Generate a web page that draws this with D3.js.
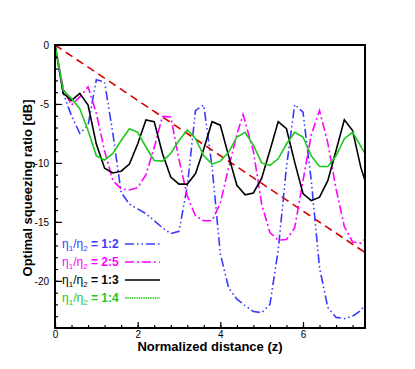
<!DOCTYPE html>
<html>
<head>
<meta charset="utf-8">
<script src="https://cdn.jsdelivr.net/npm/d3@7"></script>
<style>
  body { margin: 0; background: #fff; }
  text { font-family: "Liberation Sans", Arial, sans-serif; }
</style>
</head>
<body>
<div id="chart"></div>
<script>
// sampled positions (normalized distance z)
const zGrid = [0, 0.2, 0.4, 0.6, 0.8, 1.0, 1.2, 1.4, 1.6, 1.8, 2.0, 2.2, 2.4, 2.6, 2.8, 3.0, 3.2, 3.4, 3.6, 3.8,
               4.0, 4.2, 4.4, 4.6, 4.8, 5.0, 5.2, 5.4, 5.6, 5.8, 6.0, 6.2, 6.4, 6.6, 6.8, 7.0, 7.2, 7.4, 7.5];
const zPink = [0, 0.2, 0.4, 0.6, 0.8, 1.0, 1.2, 1.4, 1.6, 1.8, 2.0, 2.2, 2.4, 2.6, 2.8, 3.0, 3.2, 3.4, 3.6, 3.8,
               4.0, 4.2, 4.4, 4.55, 4.8, 5.0, 5.2, 5.4, 5.6, 5.8, 6.0, 6.2, 6.4, 6.6, 6.8, 7.0, 7.2, 7.4, 7.5];

// optimal squeezing ratio [dB]
const ratio12 = [0, -4.1, -6.0, -7.5, -6.8, -2.95, -3.15, -7.5, -12.5, -13.5, -13.9, -14.3, -14.9, -15.5, -16.0, -15.8,
                 -12.0, -5.55, -5.1, -10.35, -17.7, -20.6, -21.55, -22.1, -22.6, -22.7, -22.0, -17.4, -10.35, -5.05,
                 -5.7, -11.5, -18.9, -22.25, -23.1, -23.2, -23.0, -22.5, -22.0];
const ratio25 = [0, -3.7, -5.1, -4.4, -3.55, -5.8, -9.0, -11.5, -12.2, -12.3, -12.1, -11.0, -8.7, -6.05, -6.1, -9.7,
                 -12.8, -14.5, -14.9, -14.9, -13.4, -10.4, -7.6, -5.9, -9.0, -13.5, -15.9, -16.55, -16.5, -15.5,
                 -11.5, -7.6, -5.55, -8.3, -12.2, -15.4, -16.7, -16.8, -16.45];
const ratio13 = [0, -4.1, -4.7, -4.1, -5.1, -8.4, -10.45, -10.85, -10.7, -10.1, -8.4, -6.35, -6.5, -9.2, -11.2, -11.8,
                 -11.8, -10.9, -8.8, -6.5, -6.8, -9.4, -11.9, -12.7, -12.55, -11.3, -8.95, -6.5, -7.1, -9.95,
                 -12.6, -13.2, -12.9, -11.5, -8.95, -6.35, -7.25, -10.4, -11.5];
const ratio14 = [0, -3.85, -4.55, -5.4, -7.25, -9.4, -9.75, -9.2, -8.1, -7.1, -7.4, -8.65, -9.8, -9.85, -9.2, -8.1,
                 -7.2, -7.95, -9.4, -10.1, -9.85, -9.1, -7.8, -7.4, -8.5, -10.0, -10.2, -9.65, -8.4, -7.4,
                 -7.8, -9.4, -10.3, -10.3, -9.4, -7.95, -7.4, -8.6, -9.2];
// straight reference line
const refZ = [0, 7.5];
const refRatio = [0, -17.6];

const legendRatios = ["1:2", "2:5", "1:3", "1:4"];

const xMajor = [0, 2, 4, 6];
const yMajor = [0, -5, -10, -15, -20];

// set the dimensions of the graph
const W = 415, H = 369;
const plot = {left: 55, top: 45, right: 365, bottom: 328};

const svg = d3.select("#chart").append("svg")
    .attr("width", W)
    .attr("height", H);

const x = d3.scaleLinear().domain([0, 7.5]).range([plot.left, plot.right]);
const y = d3.scaleLinear().domain([-24, 0]).range([plot.bottom, plot.top]);

svg.append("clipPath").attr("id", "clip")
  .append("rect")
    .attr("x", plot.left).attr("y", plot.top)
    .attr("width", plot.right - plot.left).attr("height", plot.bottom - plot.top);

const series = [
  {z: refZ,  v: refRatio, color: "#d40000", dash: "8,5"},
  {z: zGrid, v: ratio12, color: "#3a3aff", dash: "9,3,1.5,3,1.5,3"},
  {z: zPink, v: ratio25, color: "#ff00ff", dash: "9,3,2,3"},
  {z: zGrid, v: ratio13, color: "#000000", dash: null},
  {z: zGrid, v: ratio14, color: "#1ec81e", dash: null}
];

const line = d3.line().x(d => x(d[0])).y(d => y(d[1]));

svg.append("g").attr("clip-path", "url(#clip)")
  .selectAll("path")
  .data(series)
  .join("path")
    .attr("d", s => line(s.z.map((z, i) => [z, s.v[i]])))
    .attr("fill", "none")
    .attr("stroke", s => s.color)
    .attr("stroke-width", 1.6)
    .attr("stroke-dasharray", s => s.dash);

// Axes: ticks pointing inwards
const minorX = d3.range(0, 7.3, 0.4);
const minorY = d3.range(-24, 0.5, 1);

svg.append("g")
    .attr("transform", `translate(0,${plot.bottom})`)
    .call(d3.axisBottom(x).tickValues(minorX).tickSize(-3).tickFormat(""))
    .call(g => g.select(".domain").remove());
svg.append("g")
    .attr("transform", `translate(0,${plot.bottom})`)
    .call(d3.axisBottom(x).tickValues(xMajor).tickSize(-6).tickPadding(3).tickFormat(d3.format("d")))
    .call(g => g.select(".domain").remove())
    .call(g => g.selectAll("text").attr("font-size", 10).attr("fill", "#000")
      .attr("font-family", "Liberation Sans, Arial, sans-serif"));

svg.append("g")
    .attr("transform", `translate(${plot.left},0)`)
    .call(d3.axisLeft(y).tickValues(minorY).tickSize(-3).tickFormat(""))
    .call(g => g.select(".domain").remove());
svg.append("g")
    .attr("transform", `translate(${plot.left},0)`)
    .call(d3.axisLeft(y).tickValues(yMajor).tickSize(-7).tickPadding(6).tickFormat(d => d3.format("d")(d).replace("−", "-")))
    .call(g => g.select(".domain").remove())
    .call(g => g.selectAll("text").attr("font-size", 10).attr("fill", "#000")
      .attr("font-family", "Liberation Sans, Arial, sans-serif"));

svg.selectAll(".tick line").attr("stroke", "#000").attr("stroke-width", 1.2);

// frame
svg.append("rect")
    .attr("x", plot.left).attr("y", plot.top)
    .attr("width", plot.right - plot.left).attr("height", plot.bottom - plot.top)
    .attr("fill", "none").attr("stroke", "#000").attr("stroke-width", 2);

// axis titles
svg.append("text")
    .attr("x", (plot.left + plot.right) / 2).attr("y", 351)
    .attr("text-anchor", "middle")
    .attr("font-size", 13).attr("font-weight", "bold")
    .text("Normalized distance (z)");

svg.append("text")
    .attr("transform", `translate(32,188) rotate(-90)`)
    .attr("text-anchor", "middle")
    .attr("font-size", 13).attr("font-weight", "bold")
    .text("Optimal squeezing ratio [dB]");

// legend
const legendSeries = series.slice(1);
const lg = svg.append("g").selectAll("g")
  .data(legendSeries)
  .join("g")
    .attr("transform", (d, i) => `translate(0,${244 + i * 18})`);

lg.append("line")
    .attr("x1", 125).attr("x2", 160)
    .attr("stroke", d => d.color)
    .attr("stroke-width", 1.6)
    .attr("stroke-dasharray", (d, i) => i === 3 ? "1.5,0.8" : d.dash);

const lt = lg.append("text")
    .attr("x", 62).attr("y", 4)
    .attr("font-size", 12)
    .attr("fill", d => d.color);
lt.append("tspan").text("η");
lt.append("tspan").attr("font-size", 8).attr("dy", 3).text("1");
lt.append("tspan").attr("dy", -3).text("/η");
lt.append("tspan").attr("font-size", 8).attr("dy", 3).text("2");
lt.append("tspan").attr("dy", -3).attr("font-weight", "bold")
    .text((d, i) => " = " + legendRatios[i]);
</script>
</body>
</html>
